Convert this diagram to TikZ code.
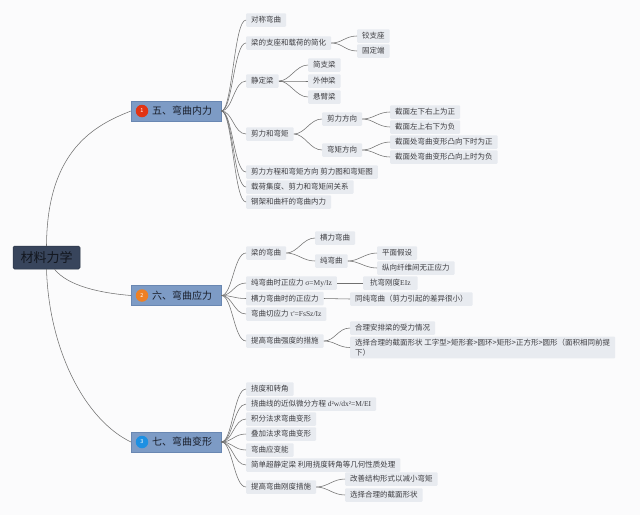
\documentclass[tikz,border=0pt]{standalone}
\usepackage{fontspec}
\setmainfont{Noto Sans CJK SC}
\newfontfamily\serf{Liberation Serif}
\definecolor{bgcol}{RGB}{251,251,252}
\definecolor{rootfill}{RGB}{56,69,92}
\definecolor{rootdraw}{RGB}{40,50,68}
\definecolor{roottext}{RGB}{18,22,30}
\definecolor{lonefill}{RGB}{125,155,197}
\definecolor{lonedraw}{RGB}{105,135,178}
\definecolor{lonetext}{RGB}{25,30,42}
\definecolor{subfill}{RGB}{232,235,240}
\definecolor{subtext}{RGB}{62,62,66}
\definecolor{conncol}{RGB}{112,112,112}
\definecolor{iconred}{RGB}{226,52,20}
\definecolor{iconorange}{RGB}{238,128,36}
\definecolor{iconblue}{RGB}{30,144,226}
\begin{document}
\begin{tikzpicture}[x=1pt,y=-1pt,
  rootbox/.style={fill=rootfill, draw=rootdraw, line width=0.5pt, rounded corners=1.5pt, minimum width=67pt, minimum height=23pt, inner sep=0pt, font=\fontsize{13}{15}\selectfont, text=roottext},
  lone/.style={fill=lonefill, draw=lonedraw, line width=0.4pt, minimum width=90pt, minimum height=20pt, inner sep=0pt, anchor=west, font=\fontsize{10}{12}\selectfont, text=lonetext},
  icon/.style={circle, inner sep=0pt, minimum size=12.5pt, font=\fontsize{5.5}{6}\selectfont, text=white},
  sub/.style={fill=subfill, rounded corners=1pt, anchor=west, inner xsep=5pt, inner ysep=0pt, minimum height=13.5pt, font=\fontsize{7.5}{9}\selectfont, text=subtext},
  conn/.style={draw=conncol, line width=0.55pt, to path={.. controls +(11,0) and +(-12,0) .. (\tikztotarget)}},
  link/.style={draw=conncol, line width=0.55pt}
]
\useasboundingbox[fill=bgcol] (0,0) rectangle (640,515);

% root
\node[rootbox] (root) at (46.5,257.5) {材料力学};

% level 1
\node[lone] (n5) at (131,111) {\hspace*{12pt}五、弯曲内力};
\node[icon, fill=iconred] (i5) at (142,111) {1};
\node[lone] (n6) at (131,295.5) {\hspace*{12pt}六、弯曲应力};
\node[icon, fill=iconorange] (i6) at (142,295.5) {2};
\node[lone] (n7) at (131,442) {\hspace*{12pt}七、弯曲变形};
\node[icon, fill=iconblue] (i7) at (142,442) {3};

\draw[link] (root.north) .. controls (47,150) and (95,125) .. (n5.west);
\draw[link] ([xshift=8pt]root.south) .. controls (68,286) and (100,293) .. (n6.west);
\draw[link] (root.south) .. controls (49,350) and (85,420) .. (n7.west);

% five
\node[sub] (a1) at (246,20) {对称弯曲};
\node[sub] (a2) at (246,43) {梁的支座和载荷的简化};
\node[sub] (a3) at (246,81) {静定梁};
\node[sub] (a4) at (246,134) {剪力和弯矩};
\node[sub] (a5) at (246,172) {剪力方程和弯矩方向 剪力图和弯矩图};
\node[sub] (a6) at (246,187) {载荷集度、剪力和弯矩间关系};
\node[sub] (a7) at (246,202) {钢架和曲杆的弯曲内力};
\node[sub] (a21) at (357,36) {铰支座};
\node[sub] (a22) at (357,51) {固定端};
\node[sub] (a31) at (308,65) {简支梁};
\node[sub] (a32) at (308,81) {外伸梁};
\node[sub] (a33) at (308,97) {悬臂梁};
\node[sub] (a41) at (322,119) {剪力方向};
\node[sub] (a42) at (322,150) {弯矩方向};
\node[sub] (a411) at (390,112) {截面左下右上为正};
\node[sub] (a412) at (390,127) {截面左上右下为负};
\node[sub] (a421) at (390,142) {截面处弯曲变形凸向下时为正};
\node[sub] (a422) at (390,157) {截面处弯曲变形凸向上时为负};

\foreach \c in {a1,a2,a3,a4,a5,a6,a7} \draw[conn] (n5.east) to (\c.west);
\foreach \c in {a21,a22} \draw[conn] (a2.east) to (\c.west);
\foreach \c in {a31,a32,a33} \draw[conn] (a3.east) to (\c.west);
\foreach \c in {a41,a42} \draw[conn] (a4.east) to (\c.west);
\foreach \c in {a411,a412} \draw[conn] (a41.east) to (\c.west);
\foreach \c in {a421,a422} \draw[conn] (a42.east) to (\c.west);

% six
\node[sub] (b1) at (246,253) {梁的弯曲};
\node[sub] (b2) at (246,283) {纯弯曲时正应力 {\serf σ=My/Iz}};
\node[sub] (b3) at (246,298.5) {横力弯曲时的正应力};
\node[sub] (b4) at (246,314) {弯曲切应力 {\serf τ'=FsSz/Iz}};
\node[sub] (b5) at (246,341) {提高弯曲强度的措施};
\node[sub] (b11) at (315,238) {横力弯曲};
\node[sub] (b12) at (315,261) {纯弯曲};
\node[sub] (b121) at (377,253) {平面假设};
\node[sub] (b122) at (377,268) {纵向纤维间无正应力};
\node[sub, inner xsep=7pt] (b21) at (363,283) {抗弯刚度{\serf EIz}};
\node[sub] (b31) at (350,299) {同纯弯曲（剪力引起的差异很小）};
\node[sub] (b51) at (350,328) {合理安排梁的受力情况};
\node[sub, align=left, inner ysep=2pt, font=\fontsize{7.5}{10.5}\selectfont] (b52) at (350,347.5) {选择合理的截面形状 工字型>矩形套>圆环>矩形>正方形>圆形（面积相同前提\\下）};

\foreach \c in {b1,b2,b3,b4,b5} \draw[conn] (n6.east) to (\c.west);
\foreach \c in {b11,b12} \draw[conn] (b1.east) to (\c.west);
\foreach \c in {b121,b122} \draw[conn] (b12.east) to (\c.west);
\draw[link] (b2.east) -- (b21.west);
\draw[link] (b3.east) -- (b31.west);
\foreach \c in {b51,b52} \draw[conn] (b5.east) to (\c.west);

% seven
\node[sub] (c1) at (246,389) {挠度和转角};
\node[sub] (c2) at (246,404) {挠曲线的近似微分方程 {\serf d²w/dx²=M/EI}};
\node[sub] (c3) at (246,419) {积分法求弯曲变形};
\node[sub] (c4) at (246,434) {叠加法求弯曲变形};
\node[sub] (c5) at (246,450) {弯曲应变能};
\node[sub] (c6) at (246,465) {简单超静定梁 利用挠度转角等几何性质处理};
\node[sub] (c7) at (246,487) {提高弯曲刚度措施};
\node[sub] (c71) at (345,479) {改善结构形式以减小弯矩};
\node[sub] (c72) at (345,495) {选择合理的截面形状};

\foreach \c in {c1,c2,c3,c4,c5,c6,c7} \draw[conn] (n7.east) to (\c.west);
\foreach \c in {c71,c72} \draw[conn] (c7.east) to (\c.west);
\end{tikzpicture}
\end{document}
